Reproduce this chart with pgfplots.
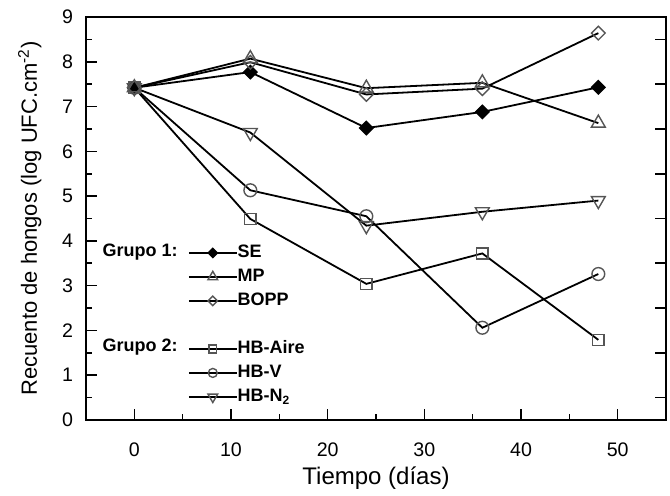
\documentclass[border=0pt]{standalone}
\usepackage{pgfplots}
\pgfplotsset{compat=1.18}
\usepackage{fontspec}
\setmainfont{Liberation Sans}
\usetikzlibrary{calc}

\definecolor{mk}{RGB}{85,85,85}

\pgfplotsset{
  ln/.style={black, line width=0.9pt},
  se/.style={ln, mark=square*, mark size=2.4pt, mark options={solid, rotate=45, fill=black, line width=0.6pt}},
  mp/.style={ln, mark=triangle, mark size=4pt, mark options={solid, draw=mk, fill=white, line width=0.7pt}},
  bopp/.style={ln, mark=square, mark size=2.4pt, mark options={solid, rotate=45, draw=mk, fill=white, line width=0.7pt}},
  aire/.style={ln, mark=square, mark size=2.8pt, mark options={solid, draw=mk, fill=white, line width=0.7pt}},
  hbv/.style={ln, mark=o, mark size=3.2pt, mark options={solid, draw=mk, fill=white, line width=0.7pt}},
  nitro/.style={ln, mark=triangle, mark size=4pt, mark options={solid, rotate=180, draw=mk, fill=white, line width=0.7pt}},
}

\begin{document}
\begin{tikzpicture}
\begin{axis}[
  name=ax,
  scale only axis, width=290pt, height=201.5pt,
  xmin=-5, xmax=55, ymin=0, ymax=9,
  xtick={0,10,...,50}, minor xtick={5,15,...,45},
  ytick={0,1,...,9}, minor ytick={0.5,1.5,...,8.5},
  xtick pos=bottom, ytick pos=left,
  tick align=inside,
  major tick length=5.5pt, minor tick length=3pt,
  axis line style={line width=1pt},
  every tick/.style={black, line width=0.8pt},
  /pgf/number format/assume math mode=true,
  tick label style={font=\fontsize{9.8}{11}\selectfont},
  xticklabel style={yshift=-8pt},
  yticklabel style={xshift=-3pt},
  xlabel={Tiempo (días)},
  ylabel={Recuento de hongos (log UFC.cm\textsuperscript{-2})},
  xlabel style={font=\fontsize{12}{14}\selectfont, at={(axis description cs:0.5,-0.145)}, anchor=center},
  ylabel style={font=\fontsize{11}{13}\selectfont, at={(axis description cs:-0.097,0.5)}, anchor=center},
  clip=false,
  legend image code/.code={\draw[mark repeat=2, mark phase=2, every mark/.append style={scale=0.7}]
    plot coordinates {(0pt,0pt) (12pt,0pt) (24pt,0pt)};},
  legend style={draw=none, fill=none, at={(axis cs:5.5,3.78)}, anchor=north west, yshift=3.6pt,
    font=\bfseries\fontsize{9}{10}\selectfont, inner sep=0pt, row sep=3pt,
    nodes={inner sep=0pt, text height=7pt, text depth=2pt}},
  legend cell align=left,
]
% grupo 2 (drawn first, listed in the legend later)
\addplot[aire, forget plot] coordinates {(0,7.42) (12,4.49) (24,3.04) (36,3.72) (48,1.79)};
\addplot[hbv, forget plot] coordinates {(0,7.42) (12,5.13) (24,4.55) (36,2.06) (48,3.26)};
\addplot[nitro, forget plot] coordinates {(0,7.42) (12,6.42) (24,4.34) (36,4.65) (48,4.90)};
% grupo 1
\addplot[se] coordinates {(0,7.42) (12,7.77) (24,6.52) (36,6.88) (48,7.43)};
\addlegendentry{SE}
\addplot[mp] coordinates {(0,7.42) (12,8.07) (24,7.41) (36,7.53) (48,6.63)};
\addlegendentry{MP}
\addplot[bopp] coordinates {(0,7.42) (12,7.99) (24,7.27) (36,7.40) (48,8.64)};
\addlegendentry{BOPP}
\addlegendimage{empty legend}
\addlegendentry{\strut}
\addlegendimage{aire}
\addlegendentry{HB-Aire}
\addlegendimage{hbv}
\addlegendentry{HB-V}
\addlegendimage{nitro}
\addlegendentry{HB-N\textsubscript{2}}

\node[anchor=east, font=\bfseries\fontsize{9}{10}\selectfont] at (axis cs:5.2,3.76) {Grupo 1:};
\node[anchor=east, font=\bfseries\fontsize{9}{10}\selectfont] at (axis cs:5.2,1.63) {Grupo 2:};
\end{axis}
% right-hand axis with its ticks at the half units
\begin{axis}[
  scale only axis, width=290pt, height=201.5pt,
  xmin=-5, xmax=55, ymin=0, ymax=9,
  axis x line=none, axis y line*=right,
  ytick={0.5,1.5,...,8.5}, yticklabels={},
  tick align=inside, major tick length=5.5pt,
  axis line style={line width=1pt},
  every tick/.style={black, line width=0.8pt},
]
\end{axis}
\pgfresetboundingbox
\path[use as bounding box] ($(ax.south west)+(-43pt,-38pt)$) rectangle ($(ax.north east)+(2pt,8.5pt)$);
\end{tikzpicture}
\end{document}
